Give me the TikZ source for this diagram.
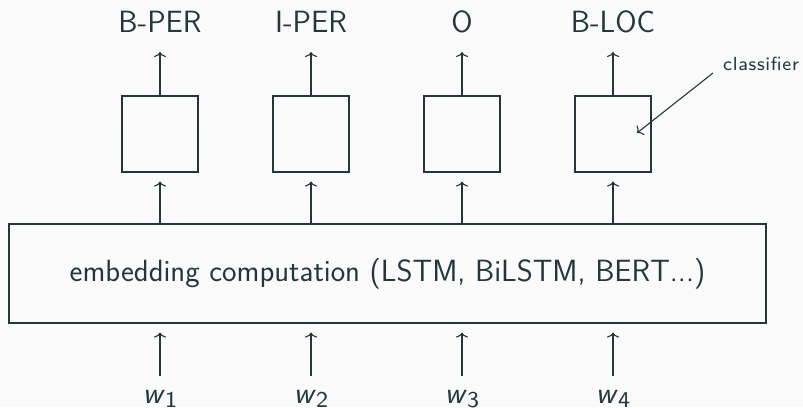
\documentclass[tikz,border=0pt]{standalone}
\usepackage{fontspec}
\usetikzlibrary{arrows.meta}
\renewcommand{\familydefault}{\sfdefault}
\newfontfamily\lmeight{lmsans8-regular.otf}
\newfontfamily\lmeightsp{lmsans8-regular.otf}[LetterSpace=3.5]
\definecolor{fg}{HTML}{23373B}
\definecolor{bg}{HTML}{FAFAFA}
\newcommand{\wsub}[1]{\textit{w}\raisebox{-4.7pt}{\lmeight\fontsize{22.6}{24}\selectfont #1}}
\begin{document}
\begin{tikzpicture}[x=1pt,y=-1pt,
  every node/.style={text=fg},
  cls/.style={draw=fg,line width=1.1pt,minimum width=76pt,minimum height=76pt,inner sep=0pt},
  big/.style={draw=fg,line width=1.1pt,minimum width=757pt,minimum height=99pt,inner sep=0pt,font=\fontsize{30.7}{34}\selectfont},
  lab/.style={font=\fontsize{30.7}{34}\selectfont,inner sep=0pt,anchor=base},
  win/.style={font=\fontsize{30.7}{34}\selectfont,inner sep=0pt,anchor=base},
  conn/.style={draw=fg,line width=1.1pt,-{To[length=5pt,width=12pt]}},
  note/.style={font=\lmeightsp\fontsize{19}{21}\selectfont,inner sep=0pt}]
\fill[bg] (0,0) rectangle (803,407);
\useasboundingbox (0,0) rectangle (803,407);
\node[big] (emb) at (387.5,273.5) {embedding computation (LSTM, BiLSTM, BERT...)};
\foreach \i/\x/\t in {1/160/B-PER,2/311/I-PER,3/462/O,4/613/B-LOC}{
  \node[cls] (c\i) at (\x,134) {};
  \node[lab] (l\i) at (\x,32) {\t};
  \node[win] (w\i) at (\x,403) {\wsub{\i}};
  \draw[conn,shorten >=9pt] (emb.north -| c\i) -- (c\i.south);
  \draw[conn,shorten >=20pt] (c\i.north) -- (l\i.base);
  \draw[conn,shorten <=27pt,shorten >=9pt] (w\i.base) -- (emb.south -| w\i);
}
\node[note,anchor=base west] (cl) at (723,70) {classifier};
\coordinate (cls) at (713,73);
\coordinate (clt) at (637,133);
\draw[conn] (cls) -- (clt);
\end{tikzpicture}
\end{document}
